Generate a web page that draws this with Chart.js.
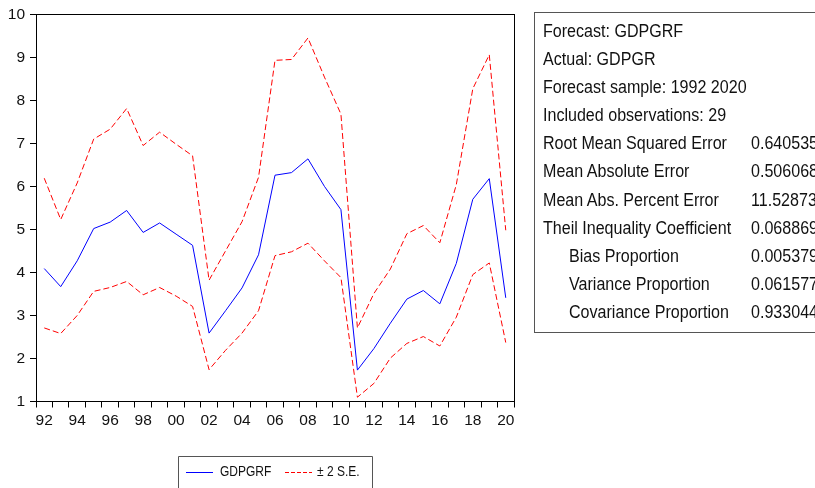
<!DOCTYPE html>
<html>
<head>
<meta charset="utf-8">
<script src="https://cdn.jsdelivr.net/npm/chart.js@4/dist/chart.umd.min.js"></script>
<style>
  html, body { margin: 0; padding: 0; background: #fff; }
  #wrap { position: relative; width: 815px; height: 488px; overflow: hidden; }
  #c { position: absolute; left: 0; top: 0; }
  #stats {
    position: absolute; left: 534px; top: 12px; width: 320px; height: 321px;
    border: 1px solid #555; box-sizing: border-box;
    font-family: "Liberation Sans", Arial, sans-serif;
    font-size: 17.5px; color: #111; padding-top: 4px;
  }
  #stats .row { position: relative; height: 28.1px; line-height: 28.1px; white-space: nowrap; }
  #stats .k, #stats .v { position: absolute; display: inline-block; transform: scaleX(0.918); transform-origin: 0 50%; }
  #stats .k { left: 8px; }
  #stats .k.ind { left: 34px; }
  #stats .v { left: 216px; }
</style>
</head>
<body>
<div id="wrap">
  <canvas id="c" width="815" height="488"></canvas>
  <div id="stats"></div>
</div>
<script>
// Forecast years 1992-2020 (two-digit labels)
const years = ['92','93','94','95','96','97','98','99','00','01','02','03','04','05','06','07','08','09','10','11','12','13','14','15','16','17','18','19','20'];

// GDPGRF forecast
const forecast = [4.09, 3.67, 4.27, 5.02, 5.17, 5.44, 4.93, 5.15, 4.89, 4.63,
                  2.59, 3.11, 3.64, 4.41, 6.26, 6.32, 6.64, 6.00, 5.46, 1.73,
                  2.23, 2.82, 3.38, 3.58, 3.27, 4.21, 5.70, 6.18, 3.41];

// Upper band (+2 S.E.)
const upperBand = [6.19, 5.23, 6.08, 7.10, 7.33, 7.81, 6.95, 7.26, 6.98, 6.71,
                   3.82, 4.50, 5.18, 6.21, 8.93, 8.95, 9.45, 8.54, 7.68, 2.71,
                   3.51, 4.08, 4.90, 5.09, 4.69, 6.04, 8.27, 9.06, 4.98];

// Lower band (-2 S.E.)
const lowerBand = [2.71, 2.58, 3.00, 3.56, 3.65, 3.79, 3.48, 3.65, 3.45, 3.21,
                   1.74, 2.19, 2.59, 3.11, 4.39, 4.48, 4.68, 4.27, 3.88, 1.10,
                   1.42, 2.01, 2.35, 2.51, 2.29, 2.96, 3.95, 4.22, 2.37];

// Forecast evaluation statistics
const statLabels = ['Forecast: GDPGRF', 'Actual: GDPGR', 'Forecast sample: 1992 2020', 'Included observations: 29',
                    'Root Mean Squared Error', 'Mean Absolute Error', 'Mean Abs. Percent Error', 'Theil Inequality Coefficient',
                    'Bias Proportion', 'Variance Proportion', 'Covariance Proportion'];
const statValues = ['', '', '', '', '0.640535', '0.506068', '11.52873', '0.068869', '0.005379', '0.061577', '0.933044'];
const statIndent = [false, false, false, false, false, false, false, false, true, true, true];

const FONT = '"Liberation Sans", Arial, sans-serif';

// statistics panel
const statsEl = document.getElementById('stats');
statLabels.forEach((lab, i) => {
  const row = document.createElement('div');
  row.className = 'row';
  const k = document.createElement('span');
  k.className = 'k' + (statIndent[i] ? ' ind' : '');
  k.textContent = lab;
  row.appendChild(k);
  if (statValues[i]) {
    const v = document.createElement('span');
    v.className = 'v';
    v.textContent = statValues[i];
    row.appendChild(v);
  }
  statsEl.appendChild(row);
});

// box around the plotting area plus the framed legend beneath it
const framePlugin = {
  id: 'frame',
  afterDraw(chart) {
    const { ctx, chartArea: a } = chart;
    ctx.save();
    ctx.strokeStyle = '#000';
    ctx.lineWidth = 1;
    ctx.strokeRect(Math.round(a.left) + 0.5, Math.round(a.top) + 0.5,
                   Math.round(a.right - a.left), Math.round(a.bottom - a.top));

    // legend
    const bx = 178, by = 456, bw = 194;
    ctx.strokeStyle = '#555';
    ctx.beginPath();
    ctx.moveTo(bx + 0.5, 500); ctx.lineTo(bx + 0.5, by + 0.5);
    ctx.lineTo(bx + bw + 0.5, by + 0.5); ctx.lineTo(bx + bw + 0.5, 500);
    ctx.stroke();

    const items = chart.data.datasets.filter(d => d.legend !== false);
    const xs = [[186, 213, 220], [285, 312, 317]];
    const ly = 472;
    items.forEach((d, i) => {
      const [x0, x1, tx] = xs[i];
      ctx.strokeStyle = d.borderColor;
      ctx.lineWidth = d.borderWidth;
      ctx.setLineDash(d.borderDash ? [4, 2] : []);
      ctx.beginPath();
      ctx.moveTo(x0, ly + 0.5); ctx.lineTo(x1, ly + 0.5);
      ctx.stroke();
      ctx.setLineDash([]);
      ctx.save();
      ctx.translate(tx, ly);
      ctx.scale(0.8, 1);
      ctx.font = '15px ' + FONT;
      ctx.textBaseline = 'middle';
      ctx.fillStyle = '#111';
      ctx.fillText(d.label, 0, 0);
      ctx.restore();
    });
    ctx.restore();
  }
};

new Chart(document.getElementById('c'), {
  type: 'line',
  data: {
    labels: years,
    datasets: [
      { label: 'GDPGRF', data: forecast, borderColor: '#0000FF', borderWidth: 1,
        pointRadius: 0, tension: 0, fill: false },
      { label: '\u00B1 2 S.E.', data: upperBand, borderColor: '#FF0000', borderWidth: 1,
        borderDash: [6, 3], pointRadius: 0, tension: 0, fill: false },
      { label: '\u00B1 2 S.E.', data: lowerBand, borderColor: '#FF0000', borderWidth: 1,
        borderDash: [6, 3], pointRadius: 0, tension: 0, fill: false, legend: false }
    ]
  },
  options: {
    responsive: false,
    animation: false,
    layout: { padding: { left: 0, top: 12, right: 301, bottom: 0 } },
    plugins: { legend: { display: false }, tooltip: { enabled: false } },
    scales: {
      x: {
        type: 'category',
        offset: true,
        grid: { offset: true, drawOnChartArea: false, drawTicks: true, tickLength: 6, color: '#000', tickColor: '#000' },
        border: { display: true, color: '#000', width: 1 },
        ticks: {
          autoSkip: false, maxRotation: 0, padding: 4, color: '#111',
          font: { family: FONT, size: 15.5 },
          callback: (v, i) => (i % 2 === 0 ? years[i] : '')
        },
        afterFit: s => { s.height = 86.5; }
      },
      y: {
        min: 1, max: 10,
        grid: { drawOnChartArea: false, drawTicks: true, tickLength: 6, color: '#000', tickColor: '#000' },
        border: { display: true, color: '#000', width: 1 },
        ticks: { stepSize: 1, padding: 5, color: '#111', font: { family: FONT, size: 15.5 } },
        afterFit: s => { s.width = 36; }
      }
    }
  },
  plugins: [framePlugin]
});
</script>
</body>
</html>
